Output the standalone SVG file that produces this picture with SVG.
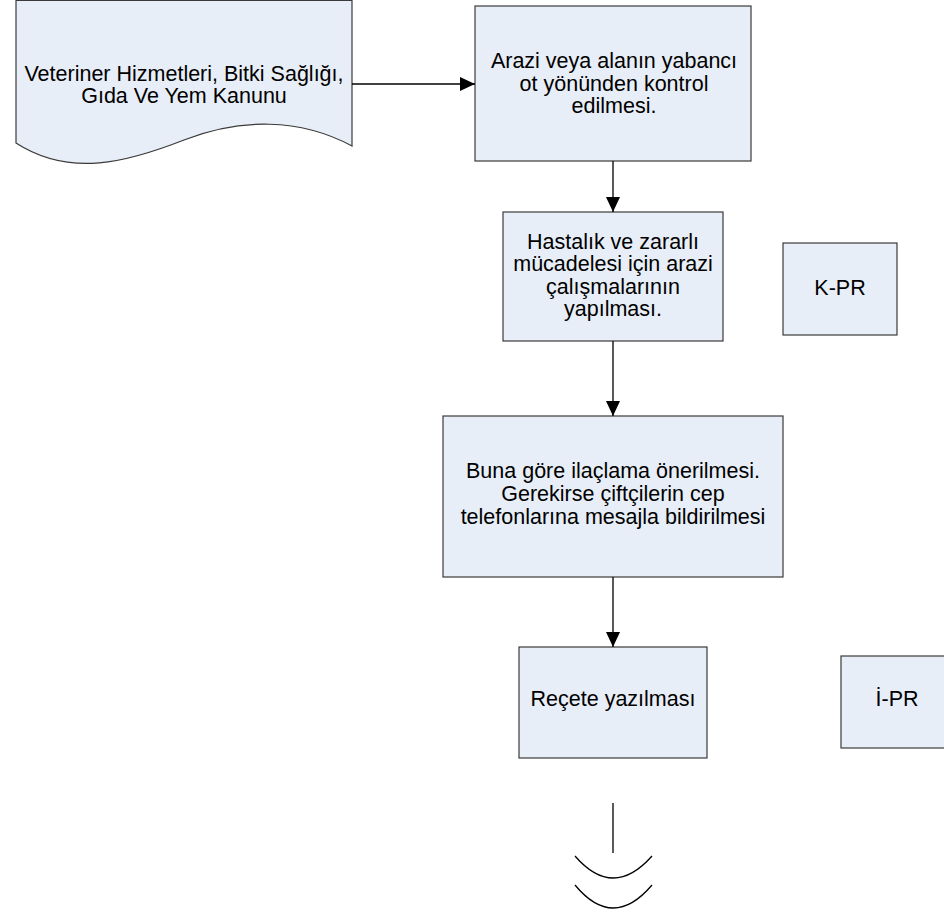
<svg xmlns="http://www.w3.org/2000/svg" width="944" height="915" viewBox="0 0 944 915">
<style>
.box{fill:#E8EEF7;stroke:#3a3a3a;stroke-width:1.2}
.t{font-family:"Liberation Sans",Arial,sans-serif;font-size:21.5px;fill:#000;text-anchor:middle}
.c{fill:none;stroke:#000;stroke-width:1.3}
</style>
<defs>
<marker id="ah" viewBox="0 0 15 14" refX="15" refY="7" markerWidth="15" markerHeight="14" markerUnits="userSpaceOnUse" orient="auto">
<path d="M0,0 L15,7 L0,14 Z" fill="#000"/>
</marker>
</defs>
<rect width="944" height="915" fill="#fff"/>
<g id="doc">
<path class="box" d="M16,0.5 L352,0.5 L352,146 C300,118 240,118 184,140 C128,162 70,178 16,143 Z"/>
<text class="t" x="184" y="81">Veteriner Hizmetleri, Bitki Sağlığı,</text>
<text class="t" x="184" y="103">Gıda Ve Yem Kanunu</text>
</g>
<g id="n1">
<rect class="box" x="475" y="6" width="276" height="155"/>
<text class="t" x="614" y="68">Arazi veya alanın yabancı</text>
<text class="t" x="614" y="91">ot yönünden kontrol</text>
<text class="t" x="614" y="113">edilmesi.</text>
</g>
<g id="n2">
<rect class="box" x="503" y="212" width="220" height="129"/>
<text class="t" x="613" y="249">Hastalık ve zararlı</text>
<text class="t" x="613" y="271">mücadelesi için arazi</text>
<text class="t" x="613" y="294">çalışmalarının</text>
<text class="t" x="613" y="316">yapılması.</text>
</g>
<g id="kpr">
<rect class="box" x="783" y="243" width="114" height="92"/>
<text class="t" x="840" y="295">K-PR</text>
</g>
<g id="n3">
<rect class="box" x="443" y="416" width="340" height="161"/>
<text class="t" x="613" y="478">Buna göre ilaçlama önerilmesi.</text>
<text class="t" x="613" y="501">Gerekirse çiftçilerin cep</text>
<text class="t" x="613" y="524">telefonlarına mesajla bildirilmesi</text>
</g>
<g id="n4">
<rect class="box" x="519" y="647" width="188" height="111"/>
<text class="t" x="613" y="706">Reçete yazılması</text>
</g>
<g id="ipr">
<rect class="box" x="841" y="656" width="112" height="92"/>
<text class="t" x="897" y="706">İ-PR</text>
</g>
<g id="ground">
<line class="c" x1="613" y1="803" x2="613" y2="853"/>
<path class="c" d="M575,856 Q613,900 652,856"/>
<path class="c" d="M575,885 Q613,931 652,885"/>
</g>
<g id="connectors">
<line class="c" x1="352" y1="84" x2="475" y2="84" marker-end="url(#ah)"/>
<line class="c" x1="613" y1="161" x2="613" y2="212" marker-end="url(#ah)"/>
<line class="c" x1="613" y1="341" x2="613" y2="416" marker-end="url(#ah)"/>
<line class="c" x1="613" y1="577" x2="613" y2="647" marker-end="url(#ah)"/>
</g>
</svg>
